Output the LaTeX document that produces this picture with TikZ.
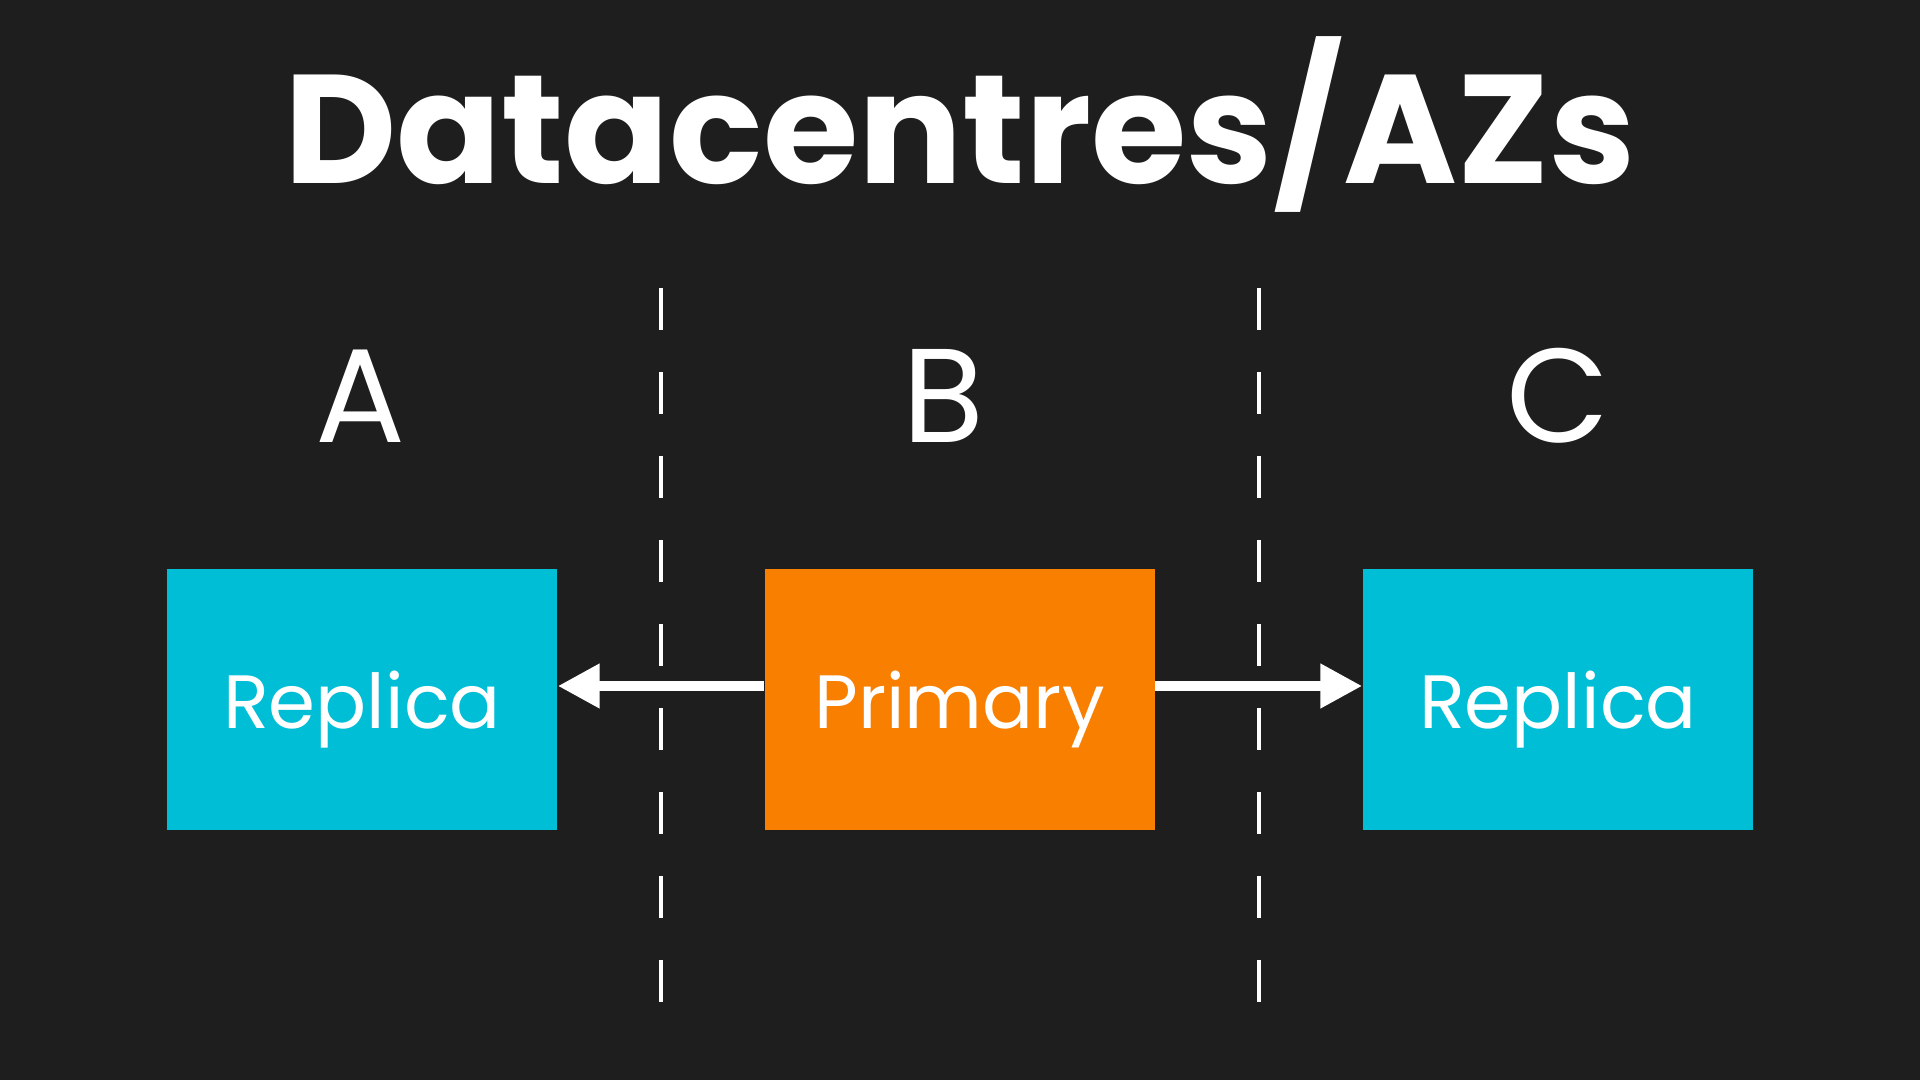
\documentclass[tikz,border=0pt]{standalone}
\usepackage{fontspec}
\setmainfont{Poppins}
\usetikzlibrary{arrows.meta,positioning}
\definecolor{bg}{HTML}{1E1E1E}
\definecolor{ink}{HTML}{FFFFFF}
\definecolor{replica}{HTML}{00BED6}
\definecolor{primary}{HTML}{F97F00}

\begin{document}
\begin{tikzpicture}[
  box/.style={minimum width=3.9cm,minimum height=2.61cm,inner sep=0pt,
    text height=0.58cm,text depth=0pt,text=ink,font=\fontsize{21.5}{26}\selectfont},
  zone/.style={text=ink,font=\fontsize{38}{44}\selectfont,anchor=base},
  divider/.style={draw=ink,line width=1.3pt,dash pattern=on 0.42cm off 0.42cm},
  arrow/.style={draw=ink,line width=3.1pt,-{Triangle[length=4.2mm,width=4.2mm]}}
]
\fill[bg] (0,0) rectangle (19.2,10.8);
\node[text=ink,font=\fontsize{44}{52}\selectfont\bfseries,anchor=base] (title) at (9.6,8.96)
  {Datacentres/AZs};
\node[zone] (zoneA) at (3.61,6.37) {A};
\node[zone] (zoneB) at (9.43,6.37) {B};
\node[zone] (zoneC) at (15.58,6.37) {C};
\draw[divider] (6.61,7.92) -- (6.61,0.78);
\draw[divider] (12.59,7.92) -- (12.59,0.78);
\node[box,fill=replica] (repA) at (3.62,3.805) {Replica};
\node[box,fill=primary] (prim) at (9.595,3.805) {Primary};
\node[box,fill=replica] (repC) at (15.58,3.805) {Replica};
\draw[arrow] ([yshift=1.35mm]prim.west) -- ([yshift=1.35mm]repA.east);
\draw[arrow] ([yshift=1.35mm]prim.east) -- ([yshift=1.35mm]repC.west);
\end{tikzpicture}
\end{document}
